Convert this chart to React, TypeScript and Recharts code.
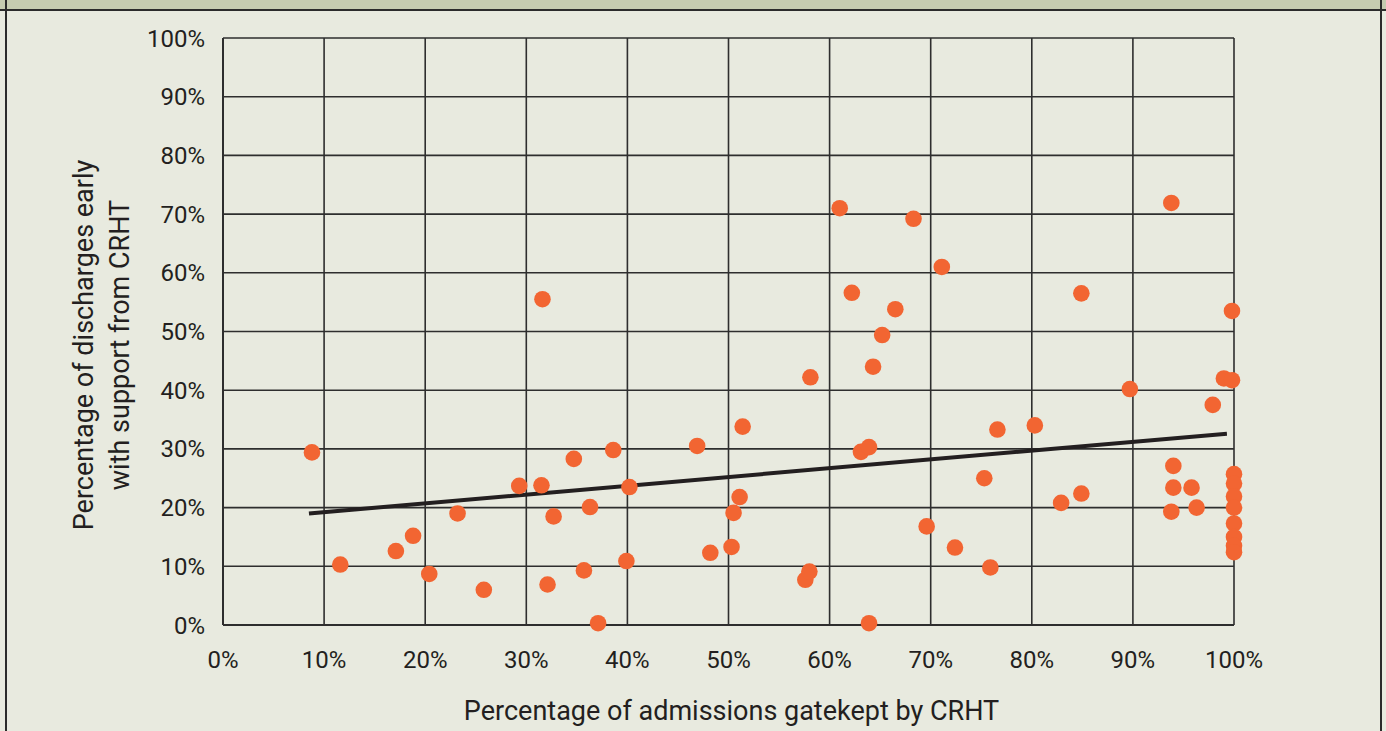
import React from 'react';
import { ScatterChart, Scatter, XAxis, YAxis, CartesianGrid } from 'recharts';

// gatekept % (x) vs early discharge % (y)
const gatekept = [
  8.8, 11.6, 17.1, 18.8, 20.4, 23.2, 25.8, 29.3, 31.5, 31.6,
  32.1, 32.7, 34.7, 35.7, 36.3, 37.1, 38.6, 39.9, 40.2, 46.9,
  48.2, 50.3, 50.5, 51.1, 51.4, 57.6, 58.0, 58.1, 61.0, 62.2,
  63.1, 63.9, 63.9, 64.3, 65.2, 66.5, 68.3, 69.6, 71.1, 72.4,
  75.3, 75.9, 76.6, 80.3, 82.9, 84.9, 84.9, 89.7, 93.8, 94.0,
  94.0, 93.8, 95.8, 96.3, 97.9, 99.0, 99.8, 99.8,
  100, 100, 100, 100, 100, 100, 100, 100,
];
const earlyDischarge = [
  29.4, 10.3, 12.6, 15.2, 8.7, 19.0, 6.0, 23.7, 23.8, 55.5,
  6.9, 18.5, 28.3, 9.3, 20.1, 0.3, 29.8, 10.9, 23.5, 30.5,
  12.3, 13.3, 19.1, 21.8, 33.8, 7.7, 9.1, 42.2, 71.0, 56.6,
  29.5, 30.3, 0.3, 44.0, 49.4, 53.8, 69.2, 16.8, 61.0, 13.2,
  25.0, 9.8, 33.3, 34.0, 20.8, 56.5, 22.4, 40.2, 71.9, 27.1,
  23.4, 19.3, 23.4, 20.0, 37.5, 42.0, 41.7, 53.5,
  25.7, 24.1, 21.9, 20.0, 17.3, 15.0, 13.5, 12.4,
];

// fitted trend line end points
const trendX = [8.5, 99.3];
const trendY = [19.0, 32.6];

const axisTicks = [0, 10, 20, 30, 40, 50, 60, 70, 80, 90, 100];

const points = gatekept.map((x, i) => ({ x, y: earlyDischarge[i] }));
const trend = trendX.map((x, i) => ({ x, y: trendY[i] }));

const ink = '#231f20';
const fontFamily = 'Roboto, sans-serif';
const pct = (v: number) => `${v}%`;

const Dot = (props: any) => <circle cx={props.cx} cy={props.cy} r={8.3} fill="#f26532" />;

const YTitle = () => (
  <text
    transform="translate(102, 345) rotate(-90)"
    textAnchor="middle"
    fill={ink}
    fontSize={27}
    fontFamily={fontFamily}
  >
    <tspan x={0} y={-9}>Percentage of discharges early</tspan>
    <tspan x={0} y={27}>with support from CRHT</tspan>
  </text>
);

const XTitle = (props: any) => {
  const vb = props.viewBox;
  return (
    <text x={vb.x + vb.width / 2 + 3} y={720} textAnchor="middle" fill={ink} fontSize={27} fontFamily={fontFamily}>
      Percentage of admissions gatekept by CRHT
    </text>
  );
};

export default function App() {
  return (
    <div style={{ position: 'absolute', left: 0, top: 0, width: 1386, height: 731, background: '#e8eadf', overflow: 'hidden' }}>
      <div style={{ position: 'absolute', left: 0, top: 0, width: 1386, height: 9, background: '#c5cbb0', borderBottom: '2px solid #2b2b2b' }} />
      <div style={{ position: 'absolute', left: 5, top: 0, width: 2, height: 731, background: '#2b2b2b' }} />
      <div style={{ position: 'absolute', left: 1380, top: 0, width: 2, height: 731, background: '#2b2b2b' }} />
      <div style={{ position: 'absolute', left: 0, top: 0 }}>
        <ScatterChart width={1386} height={731} margin={{ top: 38, right: 152, bottom: 0, left: 143 }}>
          <CartesianGrid stroke="#2e2e2e" strokeWidth={1.6} />
          <XAxis
            type="number"
            dataKey="x"
            domain={[0, 100]}
            ticks={axisTicks}
            tickFormatter={pct}
            tickLine={false}
            tickSize={0}
            tickMargin={26}
            axisLine={{ stroke: '#2e2e2e', strokeWidth: 2 }}
            tick={{ fill: ink, fontSize: 24, fontFamily }}
            height={106}
            label={{ content: XTitle }}
          />
          <YAxis
            type="number"
            dataKey="y"
            domain={[0, 100]}
            ticks={axisTicks}
            tickFormatter={pct}
            tickLine={false}
            tickSize={0}
            tickMargin={18}
            axisLine={{ stroke: '#2e2e2e', strokeWidth: 2 }}
            tick={{ fill: ink, fontSize: 24, fontFamily }}
            width={80}
            label={{ content: YTitle }}
          />
          <Scatter
            data={trend}
            line={{ stroke: ink, strokeWidth: 4 }}
            shape={() => <g />}
            isAnimationActive={false}
          />
          <Scatter data={points} shape={Dot} isAnimationActive={false} />
        </ScatterChart>
      </div>
    </div>
  );
}
